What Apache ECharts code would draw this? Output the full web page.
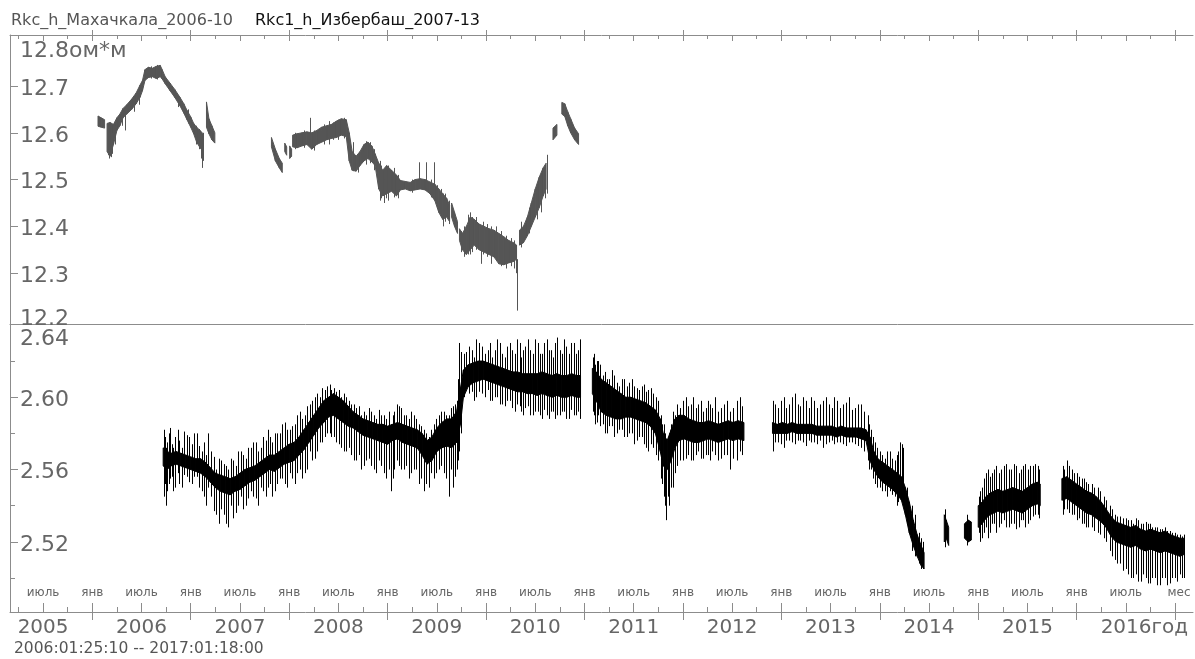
<!DOCTYPE html>
<html><head><meta charset="utf-8">
<script src="https://cdn.jsdelivr.net/npm/echarts@6/dist/echarts.min.js"></script>
<style>html,body{margin:0;padding:0;background:#fff}#c{width:1195px;height:659px}</style>
</head><body><div id="c"></div>
<script>
// ---------- tick labels ----------
const yearLabels = ['2005','2006','2007','2008','2009','2010','2011','2012','2013','2014','2015','2016'];
const monthJan = 'янв', monthJul = 'июль', monthUnit = 'мес', yearUnit = 'год', valueUnit = 'ом*м';
const topYTicks = [12.2, 12.3, 12.4, 12.5, 12.6, 12.7, 12.8];
const botYLabels = [2.52, 2.56, 2.60, 2.64];
const botYMinor = [2.50, 2.54, 2.58, 2.62];
const title1 = 'Rkc_h_Махачкала_2006-10';
const title2 = 'Rkc1_h_Избербаш_2007-13';
const rangeText = '2006:01:25:10 -- 2017:01:18:00';

// ---------- Rkc_h Махачкала (ом*м), bands [year, low, high] ----------
const mkhSegA = [[2006.058,12.614,12.636],[2006.090,12.612,12.632],[2006.125,12.610,12.628]];
const mkhSegB = [
 [2006.150,12.560,12.620],[2006.180,12.550,12.622],[2006.215,12.575,12.618],[2006.250,12.605,12.632],
 [2006.280,12.615,12.640],[2006.312,12.632,12.652],[2006.350,12.640,12.660],[2006.400,12.650,12.672],
 [2006.445,12.662,12.685],[2006.485,12.676,12.702],[2006.510,12.690,12.712],[2006.535,12.712,12.735],
 [2006.570,12.718,12.740],[2006.610,12.720,12.738],[2006.650,12.716,12.742],[2006.690,12.720,12.744],
 [2006.710,12.715,12.735],[2006.740,12.705,12.720],[2006.790,12.690,12.706],[2006.840,12.675,12.692],
 [2006.890,12.658,12.676],[2006.930,12.642,12.662],[2006.962,12.628,12.648],[2007.000,12.612,12.634],
 [2007.030,12.598,12.620],[2007.060,12.580,12.612],[2007.095,12.568,12.605],[2007.125,12.560,12.598]];
const mkhSegC = [[2007.160,12.612,12.666],[2007.185,12.598,12.630],[2007.215,12.585,12.615],[2007.245,12.578,12.600]];
const mkhSegD = [[2007.820,12.570,12.590],[2007.860,12.540,12.565],[2007.900,12.525,12.545],[2007.930,12.515,12.535]];
const mkhSegE = [[2007.955,12.560,12.578],[2007.975,12.552,12.570]];
const mkhSegF = [[2008.005,12.545,12.572],[2008.025,12.550,12.565]];
const mkhSegG = [
 [2008.035,12.570,12.595],[2008.080,12.568,12.598],[2008.130,12.572,12.600],[2008.180,12.575,12.602],
 [2008.230,12.565,12.600],[2008.280,12.575,12.605],[2008.330,12.580,12.612],[2008.380,12.585,12.615],
 [2008.430,12.588,12.618],[2008.480,12.590,12.625],[2008.530,12.595,12.630],[2008.580,12.592,12.628],
 [2008.610,12.540,12.600],[2008.640,12.520,12.560],[2008.680,12.518,12.550],[2008.720,12.530,12.560],
 [2008.760,12.540,12.575],[2008.800,12.545,12.580],[2008.840,12.538,12.572],[2008.873,12.530,12.555],
 [2008.910,12.480,12.535],[2008.950,12.465,12.520],[2008.990,12.470,12.530],[2009.040,12.475,12.520],
 [2009.090,12.465,12.510],[2009.130,12.478,12.498],[2009.180,12.480,12.496],[2009.230,12.476,12.494],
 [2009.280,12.478,12.500],[2009.330,12.480,12.502],[2009.380,12.478,12.500],[2009.430,12.470,12.495],
 [2009.480,12.455,12.490],[2009.520,12.430,12.480],[2009.560,12.415,12.470],[2009.600,12.420,12.460],
 [2009.630,12.410,12.445]];
const mkhSegH = [[2009.650,12.420,12.450],[2009.680,12.400,12.430],[2009.710,12.385,12.410]];
const mkhSegI = [
 [2009.730,12.370,12.395],[2009.760,12.350,12.385],[2009.800,12.340,12.400],[2009.840,12.350,12.420],
 [2009.880,12.360,12.415],[2009.930,12.350,12.405],[2009.980,12.345,12.400],[2010.030,12.340,12.395],
 [2010.080,12.335,12.392],[2010.130,12.320,12.385],[2010.180,12.318,12.378],[2010.230,12.322,12.370],
 [2010.280,12.325,12.365],[2010.310,12.330,12.360]];
const mkhSegJ = [[2010.340,12.360,12.392],[2010.380,12.365,12.400],[2010.420,12.380,12.420],[2010.460,12.400,12.450],
 [2010.500,12.420,12.480],[2010.540,12.440,12.505],[2010.580,12.465,12.525],[2010.610,12.480,12.535]];
const mkhSegK = [[2010.680,12.585,12.610],[2010.720,12.595,12.618]];
const mkhSegL = [[2010.770,12.640,12.665],[2010.800,12.635,12.662],[2010.830,12.615,12.645],[2010.860,12.600,12.630],
 [2010.900,12.585,12.610],[2010.940,12.575,12.598]];
const mkhSpikes = [
 [2006.170,12.545,12.600],[2006.190,12.548,12.590],[2006.205,12.555,12.600],[2006.330,12.605,12.640],
 [2007.100,12.545,12.600],[2007.115,12.525,12.590],
 [2008.210,12.580,12.632],[2008.400,12.575,12.625],[2008.650,12.518,12.580],[2008.920,12.455,12.540],
 [2008.960,12.450,12.500],[2009.000,12.455,12.530],[2009.320,12.480,12.537],[2009.390,12.480,12.537],
 [2009.470,12.470,12.537],[2009.560,12.400,12.470],[2009.840,12.340,12.430],[2009.950,12.320,12.400],
 [2010.050,12.320,12.400],[2010.200,12.310,12.380],[2010.300,12.300,12.360],[2010.317,12.220,12.330],
 [2010.360,12.355,12.410],[2010.620,12.470,12.553]];
const mkhSpikes2 = [
 [2006.16,12.552,12.615],[2006.23,12.575,12.615],[2006.30,12.615,12.645],[2006.42,12.645,12.675],
 [2006.47,12.660,12.690],[2006.60,12.716,12.742],[2006.66,12.714,12.745],[2006.87,12.655,12.680],
 [2006.97,12.620,12.650],[2007.05,12.575,12.615],[2007.08,12.565,12.608],[2007.12,12.540,12.600],
 [2008.06,12.565,12.600],[2008.15,12.568,12.605],[2008.25,12.562,12.605],[2008.35,12.575,12.618],
 [2008.45,12.585,12.622],[2008.50,12.585,12.628],[2008.56,12.588,12.632],[2008.70,12.515,12.555],
 [2008.78,12.532,12.582],[2008.82,12.535,12.580],[2008.86,12.520,12.565],[2008.93,12.460,12.530],
 [2008.98,12.460,12.528],[2009.06,12.462,12.525],[2009.11,12.460,12.510],[2009.25,12.472,12.500],
 [2009.44,12.462,12.500],[2009.50,12.440,12.488],[2009.54,12.420,12.480],[2009.58,12.410,12.470],
 [2009.62,12.405,12.455],[2009.75,12.345,12.390],[2009.78,12.335,12.400],[2009.82,12.340,12.425],
 [2009.86,12.345,12.420],[2009.90,12.350,12.420],[2009.97,12.340,12.410],[2010.01,12.335,12.405],
 [2010.10,12.330,12.400],[2010.15,12.315,12.390],[2010.25,12.315,12.375],[2010.28,12.310,12.370],
 [2010.44,12.385,12.440],[2010.52,12.415,12.490],[2010.56,12.430,12.510],[2010.60,12.460,12.530]];

// ---------- Rkc1_h Избербаш (ом*м), bands [year, low, high] ----------
const izbSegA = [
 [2006.72,2.562,2.572],[2006.76,2.560,2.570],[2006.80,2.562,2.569],[2006.85,2.563,2.570],[2006.90,2.562,2.569],
 [2006.95,2.561,2.568],[2007.00,2.560,2.567],[2007.05,2.559,2.566],[2007.10,2.558,2.566],[2007.15,2.556,2.564],
 [2007.20,2.553,2.561],[2007.25,2.550,2.558],[2007.30,2.548,2.557],[2007.35,2.547,2.556],[2007.40,2.546,2.555],
 [2007.45,2.548,2.556],[2007.50,2.549,2.558],[2007.55,2.551,2.560],[2007.60,2.553,2.561],[2007.65,2.554,2.562],
 [2007.70,2.556,2.564],[2007.75,2.558,2.566],[2007.80,2.560,2.568],[2007.85,2.559,2.568],[2007.90,2.561,2.570],
 [2007.95,2.563,2.572],[2008.00,2.564,2.574],[2008.05,2.565,2.575],[2008.10,2.568,2.578],[2008.15,2.571,2.582],
 [2008.20,2.575,2.586],[2008.25,2.579,2.590],[2008.30,2.583,2.594],[2008.35,2.586,2.598],[2008.40,2.589,2.600],
 [2008.45,2.590,2.602],[2008.50,2.588,2.600],[2008.55,2.586,2.598],[2008.60,2.584,2.595],[2008.65,2.583,2.592],
 [2008.70,2.581,2.590],[2008.75,2.579,2.588],[2008.80,2.578,2.587],[2008.85,2.577,2.586],[2008.90,2.576,2.585],
 [2008.95,2.575,2.585],[2009.00,2.574,2.584],[2009.05,2.576,2.585],[2009.10,2.577,2.586],[2009.15,2.575,2.585],
 [2009.20,2.574,2.584],[2009.25,2.573,2.583],[2009.30,2.572,2.582],[2009.35,2.568,2.580],[2009.40,2.563,2.576],
 [2009.45,2.565,2.578],[2009.50,2.570,2.583],[2009.55,2.572,2.586],[2009.60,2.573,2.588],[2009.65,2.572,2.588],
 [2009.70,2.575,2.592],[2009.74,2.585,2.605],[2009.77,2.600,2.615],[2009.82,2.606,2.618],[2009.87,2.608,2.619],
 [2009.92,2.609,2.620],[2009.97,2.610,2.620],[2010.02,2.609,2.619],[2010.07,2.608,2.618],[2010.12,2.607,2.617],
 [2010.17,2.606,2.616],[2010.22,2.605,2.615],[2010.27,2.604,2.614],[2010.32,2.603,2.614],[2010.37,2.603,2.613],
 [2010.42,2.602,2.613],[2010.47,2.602,2.613],[2010.52,2.601,2.613],[2010.57,2.602,2.614],[2010.62,2.601,2.613],
 [2010.67,2.600,2.612],[2010.72,2.601,2.613],[2010.77,2.600,2.612],[2010.82,2.600,2.612],[2010.87,2.601,2.613],
 [2010.92,2.600,2.612],[2010.96,2.600,2.612]];
const izbSegB = [
 [2011.08,2.602,2.616],[2011.12,2.598,2.614],[2011.17,2.592,2.610],[2011.22,2.590,2.608],[2011.27,2.589,2.606],
 [2011.32,2.588,2.604],[2011.37,2.588,2.602],[2011.42,2.589,2.600],[2011.47,2.589,2.600],[2011.52,2.588,2.599],
 [2011.57,2.587,2.598],[2011.62,2.586,2.597],[2011.67,2.584,2.595],[2011.72,2.580,2.593],[2011.77,2.570,2.588],
 [2011.80,2.562,2.580],[2011.84,2.560,2.576],[2011.88,2.565,2.582],[2011.92,2.572,2.588],[2011.96,2.576,2.590],
 [2012.01,2.577,2.590],[2012.06,2.576,2.588],[2012.11,2.575,2.587],[2012.16,2.575,2.586],[2012.21,2.576,2.586],
 [2012.26,2.577,2.587],[2012.31,2.576,2.586],[2012.36,2.575,2.585],[2012.41,2.576,2.586],[2012.46,2.577,2.587],
 [2012.51,2.576,2.586],[2012.56,2.577,2.587],[2012.62,2.576,2.586]];
const izbSegC = [
 [2012.91,2.580,2.586],[2012.96,2.580,2.585],[2013.01,2.580,2.586],[2013.06,2.580,2.585],[2013.11,2.581,2.586],
 [2013.16,2.580,2.585],[2013.21,2.580,2.585],[2013.26,2.580,2.585],[2013.31,2.580,2.585],[2013.36,2.579,2.584],
 [2013.41,2.579,2.584],[2013.46,2.579,2.584],[2013.51,2.579,2.584],[2013.56,2.578,2.583],[2013.61,2.579,2.584],
 [2013.66,2.578,2.583],[2013.71,2.578,2.583],[2013.76,2.578,2.583],[2013.81,2.577,2.583],[2013.86,2.576,2.582],
 [2013.90,2.565,2.578],[2013.94,2.560,2.570],[2013.98,2.556,2.566],[2014.03,2.553,2.564],[2014.08,2.551,2.562],
 [2014.13,2.549,2.560],[2014.18,2.546,2.558],[2014.22,2.543,2.556],[2014.26,2.535,2.550],[2014.30,2.525,2.542],
 [2014.34,2.518,2.532],[2014.38,2.512,2.524],[2014.42,2.507,2.518],[2014.45,2.505,2.514]];
const izbSegD = [[2014.655,2.520,2.535],[2014.675,2.522,2.532],[2014.700,2.518,2.528]];
const izbSegE = [[2014.860,2.522,2.530],[2014.900,2.520,2.532],[2014.930,2.521,2.531]];
const izbSegF = [
 [2015.00,2.528,2.540],[2015.04,2.530,2.542],[2015.08,2.533,2.545],[2015.12,2.535,2.547],[2015.16,2.536,2.548],
 [2015.20,2.537,2.549],[2015.25,2.536,2.548],[2015.30,2.537,2.549],[2015.35,2.538,2.550],[2015.40,2.537,2.549],
 [2015.45,2.536,2.548],[2015.50,2.538,2.550],[2015.55,2.540,2.552],[2015.60,2.541,2.553],[2015.63,2.540,2.552]];
const izbSegG = [
 [2015.85,2.543,2.555],[2015.90,2.544,2.556],[2015.95,2.542,2.554],[2016.00,2.540,2.552],[2016.05,2.538,2.550],
 [2016.10,2.536,2.548],[2016.15,2.535,2.547],[2016.20,2.533,2.545],[2016.25,2.531,2.542],[2016.30,2.528,2.538],
 [2016.35,2.523,2.534],[2016.40,2.520,2.531],[2016.45,2.519,2.530],[2016.50,2.518,2.529],[2016.55,2.517,2.528],
 [2016.60,2.518,2.529],[2016.65,2.516,2.527],[2016.70,2.515,2.526],[2016.75,2.516,2.527],[2016.80,2.515,2.526],
 [2016.85,2.514,2.525],[2016.90,2.515,2.526],[2016.95,2.514,2.524],[2017.00,2.513,2.523],[2017.05,2.512,2.522],
 [2017.09,2.513,2.522]];
const izbSpikes = [
 [2006.725,2.545,2.582],[2006.74,2.552,2.578],[2006.76,2.548,2.575],[2006.79,2.555,2.583],[2006.84,2.550,2.578],
 [2006.88,2.552,2.576],[2006.93,2.557,2.581],[2006.98,2.553,2.578],[2007.03,2.556,2.580],[2007.08,2.550,2.573],
 [2007.13,2.545,2.575],[2007.18,2.550,2.580],[2007.24,2.537,2.567],[2007.29,2.530,2.566],[2007.34,2.535,2.563],
 [2007.38,2.528,2.560],[2007.43,2.533,2.565],[2007.48,2.540,2.570],[2007.53,2.538,2.568],[2007.58,2.544,2.572],
 [2007.63,2.545,2.575],[2007.68,2.540,2.570],[2007.73,2.548,2.578],[2007.78,2.550,2.582],[2007.83,2.545,2.575],
 [2007.88,2.552,2.580],[2007.93,2.555,2.585],[2007.98,2.550,2.582],[2008.03,2.555,2.584],[2008.08,2.558,2.590],
 [2008.13,2.555,2.588],[2008.18,2.560,2.595],[2008.23,2.565,2.598],[2008.28,2.570,2.602],[2008.33,2.575,2.605],
 [2008.38,2.580,2.606],[2008.43,2.578,2.604],[2008.48,2.575,2.603],[2008.53,2.572,2.600],[2008.58,2.570,2.600],
 [2008.63,2.568,2.596],[2008.68,2.565,2.594],[2008.73,2.560,2.590],[2008.78,2.565,2.590],[2008.83,2.562,2.592],
 [2008.88,2.558,2.588],[2008.93,2.562,2.590],[2008.98,2.555,2.588],[2009.03,2.548,2.585],[2009.07,2.560,2.592],
 [2009.12,2.562,2.595],[2009.17,2.560,2.590],[2009.22,2.555,2.588],[2009.27,2.560,2.590],[2009.32,2.552,2.585],
 [2009.37,2.548,2.582],[2009.42,2.550,2.578],[2009.47,2.555,2.585],[2009.52,2.560,2.590],[2009.57,2.558,2.592],
 [2009.62,2.545,2.590],[2009.66,2.550,2.595],[2009.70,2.560,2.598],[2009.73,2.570,2.630],
 [2009.80,2.605,2.625],[2009.86,2.603,2.626],[2009.90,2.600,2.632],[2009.96,2.602,2.628],[2010.02,2.604,2.626],
 [2010.06,2.598,2.622],[2010.11,2.600,2.632],[2010.16,2.596,2.624],[2010.21,2.598,2.628],[2010.26,2.594,2.626],
 [2010.31,2.596,2.632],[2010.36,2.592,2.622],[2010.40,2.594,2.628],[2010.45,2.590,2.626],[2010.50,2.592,2.632],
 [2010.55,2.590,2.624],[2010.59,2.593,2.630],[2010.64,2.588,2.626],[2010.68,2.592,2.622],[2010.72,2.590,2.633],
 [2010.77,2.592,2.624],[2010.81,2.588,2.628],[2010.86,2.593,2.630],[2010.91,2.590,2.624],[2010.95,2.588,2.632],
 [2011.09,2.592,2.622],[2011.11,2.585,2.618],[2011.14,2.590,2.620],[2011.19,2.585,2.612],[2011.23,2.580,2.610],
 [2011.28,2.584,2.615],[2011.33,2.580,2.608],[2011.38,2.582,2.610],[2011.43,2.578,2.606],[2011.48,2.580,2.610],
 [2011.53,2.576,2.605],[2011.58,2.578,2.606],[2011.63,2.572,2.603],[2011.68,2.574,2.605],[2011.73,2.568,2.600],
 [2011.78,2.555,2.590],[2011.81,2.545,2.585],[2011.83,2.532,2.575],[2011.86,2.540,2.580],[2011.90,2.550,2.592],
 [2011.94,2.562,2.596],[2012.00,2.565,2.598],[2012.05,2.568,2.595],[2012.10,2.565,2.600],[2012.15,2.570,2.596],
 [2012.20,2.566,2.592],[2012.25,2.568,2.598],[2012.30,2.570,2.594],[2012.36,2.565,2.592],[2012.42,2.568,2.596],
 [2012.48,2.560,2.592],[2012.55,2.565,2.598],[2012.60,2.568,2.595],
 [2012.92,2.570,2.598],[2012.97,2.575,2.594],[2013.03,2.572,2.600],[2013.08,2.576,2.596],[2013.14,2.574,2.602],
 [2013.19,2.576,2.595],[2013.25,2.573,2.598],[2013.30,2.575,2.600],[2013.36,2.574,2.594],[2013.42,2.572,2.598],
 [2013.48,2.575,2.596],[2013.54,2.574,2.600],[2013.60,2.575,2.594],[2013.66,2.573,2.597],[2013.72,2.575,2.593],
 [2013.78,2.573,2.596],[2013.84,2.570,2.592],[2013.89,2.560,2.585],[2013.93,2.555,2.578],[2013.97,2.550,2.572],
 [2014.02,2.548,2.568],[2014.07,2.545,2.570],[2014.12,2.546,2.566],[2014.17,2.540,2.568],[2014.21,2.545,2.575],
 [2014.24,2.540,2.572],[2014.33,2.515,2.540],[2014.40,2.508,2.525],[2014.44,2.505,2.520],
 [2014.665,2.517,2.538],[2014.89,2.518,2.535],
 [2015.02,2.520,2.548],[2015.06,2.525,2.555],[2015.10,2.522,2.560],[2015.14,2.530,2.558],[2015.18,2.525,2.562],
 [2015.23,2.530,2.560],[2015.28,2.528,2.563],[2015.33,2.530,2.560],[2015.38,2.527,2.562],[2015.43,2.532,2.560],
 [2015.48,2.528,2.563],[2015.53,2.532,2.562],[2015.58,2.535,2.563],[2015.62,2.533,2.560],
 [2015.86,2.535,2.562],[2015.90,2.538,2.565],[2015.95,2.535,2.560],[2016.00,2.532,2.558],[2016.05,2.530,2.555],
 [2016.10,2.528,2.553],[2016.16,2.528,2.552],[2016.22,2.525,2.550],[2016.28,2.522,2.545],[2016.34,2.515,2.540],
 [2016.39,2.510,2.535],[2016.44,2.508,2.534],[2016.50,2.505,2.533],[2016.55,2.500,2.532],[2016.60,2.502,2.533],
 [2016.65,2.498,2.530],[2016.70,2.500,2.531],[2016.75,2.497,2.530],[2016.80,2.500,2.528],[2016.85,2.496,2.527],
 [2016.90,2.500,2.528],[2016.95,2.497,2.526],[2017.00,2.500,2.525],[2017.05,2.502,2.524],[2017.09,2.500,2.524]];
const izbSpikes2 = [
 [2006.73,2.555,2.575],[2006.75,2.540,2.572],[2006.78,2.552,2.580],[2006.81,2.556,2.574],[2006.82,2.548,2.572],
 [2006.87,2.558,2.582],[2006.91,2.550,2.572],[2006.96,2.556,2.579],[2007.01,2.552,2.574],[2007.06,2.556,2.580],
 [2007.11,2.548,2.570],[2007.16,2.540,2.568],[2007.21,2.545,2.570],[2007.26,2.535,2.560],[2007.31,2.538,2.565],
 [2007.36,2.530,2.562],[2007.41,2.540,2.566],[2007.46,2.536,2.562],[2007.51,2.545,2.570],[2007.56,2.540,2.566],
 [2007.61,2.548,2.572],[2007.66,2.544,2.575],[2007.71,2.550,2.572],[2007.76,2.545,2.576],[2007.81,2.552,2.578],
 [2007.86,2.548,2.580],[2007.91,2.555,2.580],[2007.96,2.552,2.586],[2008.01,2.558,2.582],[2008.06,2.552,2.585],
 [2008.11,2.560,2.592],[2008.16,2.558,2.590],[2008.21,2.570,2.596],[2008.26,2.566,2.600],[2008.31,2.575,2.600],
 [2008.36,2.578,2.604],[2008.41,2.580,2.607],[2008.46,2.578,2.605],[2008.51,2.574,2.604],[2008.56,2.570,2.602],
 [2008.61,2.572,2.598],[2008.66,2.565,2.596],[2008.71,2.568,2.595],[2008.76,2.562,2.592],[2008.81,2.566,2.594],
 [2008.86,2.560,2.590],[2008.91,2.565,2.593],[2008.96,2.558,2.590],[2009.01,2.560,2.592],[2009.05,2.555,2.590],
 [2009.10,2.565,2.596],[2009.14,2.560,2.594],[2009.19,2.562,2.590],[2009.24,2.558,2.592],[2009.29,2.560,2.588],
 [2009.34,2.555,2.584],[2009.39,2.552,2.580],[2009.44,2.558,2.582],[2009.49,2.558,2.588],[2009.54,2.562,2.592],
 [2009.59,2.555,2.590],[2009.64,2.560,2.594],[2009.68,2.556,2.596],[2009.72,2.565,2.610],[2009.75,2.580,2.625],
 [2009.78,2.600,2.624],[2009.83,2.602,2.628],[2009.88,2.598,2.622],[2009.93,2.603,2.630],[2009.99,2.600,2.624],
 [2010.04,2.598,2.630],[2010.09,2.600,2.626],[2010.14,2.596,2.630],[2010.19,2.595,2.622],[2010.24,2.598,2.630],
 [2010.29,2.592,2.624],[2010.34,2.595,2.630],[2010.38,2.590,2.626],[2010.43,2.595,2.632],[2010.48,2.590,2.624],
 [2010.53,2.592,2.630],[2010.57,2.588,2.624],[2010.62,2.590,2.632],[2010.66,2.592,2.626],[2010.70,2.588,2.630],
 [2010.75,2.590,2.626],[2010.79,2.592,2.632],[2010.84,2.588,2.624],[2010.89,2.590,2.630],[2010.93,2.592,2.626],
 [2011.10,2.590,2.624],[2011.13,2.586,2.620],[2011.16,2.584,2.618],[2011.21,2.580,2.614],[2011.25,2.584,2.610],
 [2011.30,2.578,2.612],[2011.35,2.582,2.606],[2011.40,2.578,2.610],[2011.45,2.580,2.608],[2011.50,2.574,2.606],
 [2011.55,2.578,2.604],[2011.60,2.574,2.607],[2011.65,2.570,2.604],[2011.70,2.572,2.602],[2011.75,2.565,2.598],
 [2011.79,2.552,2.585],[2011.82,2.540,2.580],[2011.85,2.545,2.578],[2011.88,2.550,2.585],[2011.92,2.558,2.590],
 [2011.97,2.565,2.594],[2012.03,2.566,2.600],[2012.08,2.565,2.596],[2012.13,2.568,2.594],[2012.18,2.566,2.598],
 [2012.23,2.568,2.594],[2012.28,2.565,2.596],[2012.33,2.568,2.600],[2012.39,2.566,2.594],[2012.45,2.568,2.598],
 [2012.51,2.566,2.594],[2012.58,2.570,2.600],
 [2012.94,2.575,2.596],[2013.00,2.574,2.598],[2013.05,2.576,2.594],[2013.11,2.575,2.600],[2013.17,2.576,2.596],
 [2013.22,2.575,2.600],[2013.28,2.576,2.594],[2013.33,2.575,2.598],[2013.39,2.576,2.596],[2013.45,2.574,2.600],
 [2013.51,2.576,2.594],[2013.57,2.575,2.598],[2013.63,2.574,2.596],[2013.69,2.575,2.600],[2013.75,2.574,2.594],
 [2013.81,2.572,2.596],[2013.88,2.565,2.590],[2013.91,2.560,2.582],[2013.95,2.552,2.575],[2014.00,2.550,2.570],
 [2014.05,2.548,2.566],[2014.10,2.548,2.570],[2014.15,2.545,2.565],[2014.19,2.542,2.570],[2014.23,2.545,2.574],
 [2014.28,2.530,2.550],[2014.36,2.512,2.535],[2014.42,2.505,2.522],
 [2015.01,2.525,2.545],[2015.04,2.522,2.550],[2015.08,2.528,2.558],[2015.12,2.525,2.556],[2015.16,2.530,2.560],
 [2015.21,2.528,2.558],[2015.26,2.532,2.562],[2015.31,2.528,2.560],[2015.36,2.530,2.563],[2015.41,2.528,2.558],
 [2015.46,2.532,2.562],[2015.51,2.530,2.560],[2015.56,2.534,2.562],[2015.61,2.535,2.562],
 [2015.87,2.538,2.560],[2015.92,2.536,2.562],[2015.97,2.535,2.558],[2016.02,2.533,2.556],[2016.07,2.530,2.555],
 [2016.12,2.528,2.552],[2016.18,2.526,2.550],[2016.24,2.524,2.548],[2016.30,2.520,2.543],[2016.36,2.512,2.538],
 [2016.41,2.508,2.534],[2016.47,2.504,2.533],[2016.52,2.502,2.532],[2016.57,2.500,2.530],[2016.62,2.498,2.532],
 [2016.67,2.502,2.530],[2016.72,2.497,2.530],[2016.77,2.500,2.528],[2016.82,2.496,2.528],[2016.87,2.500,2.527],
 [2016.92,2.496,2.526],[2016.97,2.500,2.525],[2017.02,2.498,2.524],[2017.07,2.500,2.523]];

// ---------- layout / style ----------
const FONT = 'DejaVu Sans';
const AXC = '#8c8c8c';
const LBL = '#666';
const X_MIN = 2005.164, X_MAX = 2017.182;
const years = yearLabels.map(Number).concat([2017]);
const inRange = v => v >= X_MIN && v <= X_MAX;
const janTicks = years.filter(inRange);
const julTicks = years.map(y => y + 0.5).filter(inRange);
const qTicks = years.flatMap(y => [y + 0.25, y + 0.75]).filter(inRange);
const allQ = janTicks.concat(julTicks, qTicks);
const monthLabelVals = julTicks.concat(janTicks);
const yearLabelVals = yearLabels.map(y => Number(y) + 0.5);

function bandSeries(segments, xi, yi, color) {
  const data = [];
  segments.forEach((seg, si) => seg.forEach(p => data.push([p[0], p[1], p[2], si])));
  return {
    type: 'custom', xAxisIndex: xi, yAxisIndex: yi, clip: true, silent: true,
    encode: {x: 0, y: [1, 2]}, data: data,
    renderItem: function (params, api) {
      const i = params.dataIndex, cur = data[i], nxt = data[i + 1], prv = data[i - 1];
      if (nxt && nxt[3] === cur[3]) {
        const pts = [api.coord([cur[0], cur[2]]), api.coord([nxt[0], nxt[2]]),
                     api.coord([nxt[0], nxt[1]]), api.coord([cur[0], cur[1]])];
        return {type: 'polygon', shape: {points: pts}, style: {fill: color, stroke: color, lineWidth: 1}};
      }
      if (prv && prv[3] === cur[3]) return {type: 'group', children: []};
      const a = api.coord([cur[0], cur[1]]), b = api.coord([cur[0], cur[2]]);
      return {type: 'line', shape: {x1: a[0], y1: a[1], x2: b[0], y2: b[1]}, style: {stroke: color, lineWidth: 2}};
    }
  };
}
function spikeSeries(data, xi, yi, color) {
  return {
    type: 'custom', xAxisIndex: xi, yAxisIndex: yi, clip: true, silent: true,
    encode: {x: 0, y: [1, 2]}, data: data,
    renderItem: function (params, api) {
      const a = api.coord([api.value(0), api.value(1)]), b = api.coord([api.value(0), api.value(2)]);
      const px = Math.round(a[0]) + 0.5;
      return {type: 'line', shape: {x1: px, y1: a[1], x2: px, y2: b[1]}, style: {stroke: color, lineWidth: 1}};
    }
  };
}

const lineSt = {color: AXC, width: 1};
function xAx(grid, pos, opts) {
  return Object.assign({
    type: 'value', gridIndex: grid, position: pos, min: X_MIN, max: X_MAX,
    axisLine: {show: false, lineStyle: lineSt}, axisTick: {show: false}, axisLabel: {show: false},
    splitLine: {show: false}
  }, opts);
}

const chart = echarts.init(document.getElementById('c'), null, {renderer: 'canvas'});
chart.setOption({
  animation: false,
  backgroundColor: '#fff',
  textStyle: {fontFamily: FONT},
  title: [
    {text: title1, left: 11, top: 13, padding: 0, textStyle: {fontFamily: FONT, fontSize: 16, fontWeight: 'normal', color: '#555'}},
    {text: title2, left: 255, top: 13, padding: 0, textStyle: {fontFamily: FONT, fontSize: 16, fontWeight: 'normal', color: '#111'}},
    {text: rangeText, left: 14, top: 641, padding: 0, textStyle: {fontFamily: FONT, fontSize: 15.5, fontWeight: 'normal', color: '#555'}}
  ],
  grid: [
    {left: 10, right: 2, top: 35, height: 289, outerBoundsMode: 'none', containLabel: false},
    {left: 10, right: 2, top: 324, height: 288, outerBoundsMode: 'none', containLabel: false}
  ],
  xAxis: [
    xAx(0, 'top', {axisLine: {show: true, lineStyle: lineSt},
      axisTick: {show: true, inside: true, length: 4, customValues: allQ, lineStyle: lineSt}}),
    xAx(0, 'top', {axisTick: {show: true, inside: true, length: 6, customValues: janTicks.concat(julTicks), lineStyle: lineSt}}),
    xAx(0, 'top', {axisTick: {show: true, inside: false, length: 5, customValues: janTicks, lineStyle: lineSt}}),
    xAx(0, 'bottom', {axisLine: {show: true, lineStyle: lineSt}}),
    xAx(1, 'bottom', {axisLine: {show: true, lineStyle: lineSt},
      axisTick: {show: true, inside: true, length: 5, customValues: qTicks, lineStyle: lineSt},
      axisLabel: {show: true, inside: true, margin: 13, customValues: monthLabelVals,
        fontFamily: FONT, fontSize: 12, color: LBL,
        formatter: v => (Math.abs(v - Math.round(v)) < 0.01) ? (v > 2016.9 ? '{m|' + monthUnit + '}' : monthJan) : monthJul,
        rich: {m: {fontFamily: FONT, fontSize: 12, color: LBL, padding: [0, 0, 0, 8]}}}}),
    xAx(1, 'bottom', {axisTick: {show: true, inside: true, length: 9, customValues: janTicks.concat(julTicks), lineStyle: lineSt}}),
    xAx(1, 'bottom', {axisTick: {show: true, inside: false, length: 8, customValues: janTicks, lineStyle: lineSt},
      axisLabel: {show: true, margin: 6, customValues: yearLabelVals, fontFamily: FONT, fontSize: 20, color: LBL,
        formatter: v => { const y = String(Math.floor(v)); return y === '2016' ? '{q|' + y + '}{g|' + yearUnit + '}' : y; },
        rich: {q: {fontFamily: FONT, fontSize: 20, color: LBL, padding: [0, 0, 0, 37]},
               g: {fontFamily: FONT, fontSize: 20, color: LBL}}}})
  ],
  yAxis: [
    {type: 'value', gridIndex: 0, position: 'left', min: 12.1914, max: 12.809,
      axisLine: {show: true, lineStyle: lineSt},
      axisTick: {show: true, inside: true, length: 8, customValues: [12.3, 12.4, 12.5, 12.6, 12.7], lineStyle: lineSt},
      splitLine: {show: false},
      axisLabel: {show: true, inside: true, margin: 10, customValues: topYTicks, fontFamily: FONT, fontSize: 22, color: LBL,
        formatter: v => v >= 12.79 ? '{t|' + v.toFixed(1) + '}{t|' + valueUnit + '}' : (v <= 12.21 ? '{b|' + v.toFixed(1) + '}' : '{n|' + v.toFixed(1) + '}'),
        rich: {n: {fontFamily: FONT, fontSize: 22, color: LBL, padding: [6, 0, 0, 0]},
               t: {fontFamily: FONT, fontSize: 22, color: LBL, padding: [24, 0, 0, 0]},
               b: {fontFamily: FONT, fontSize: 22, color: LBL, padding: [0, 0, 2, 0]}}}},
    {type: 'value', gridIndex: 1, position: 'left', min: 2.4812, max: 2.6405,
      axisLine: {show: true, lineStyle: lineSt},
      axisTick: {show: true, inside: true, length: 8, customValues: [2.52, 2.56, 2.60], lineStyle: lineSt},
      splitLine: {show: false},
      axisLabel: {show: true, inside: true, margin: 10, customValues: botYLabels, fontFamily: FONT, fontSize: 22, color: LBL,
        formatter: v => v >= 2.639 ? '{t|' + v.toFixed(2) + '}' : '{n|' + v.toFixed(2) + '}',
        rich: {n: {fontFamily: FONT, fontSize: 22, color: LBL, padding: [6, 0, 0, 0]},
               t: {fontFamily: FONT, fontSize: 22, color: LBL, padding: [28, 0, 0, 0]}}}},
    {type: 'value', gridIndex: 1, position: 'left', min: 2.4812, max: 2.6405,
      axisLine: {show: false}, splitLine: {show: false}, axisLabel: {show: false},
      axisTick: {show: true, inside: true, length: 5, customValues: botYMinor, lineStyle: lineSt}}
  ],
  series: [
    bandSeries([mkhSegA, mkhSegB, mkhSegC, mkhSegD, mkhSegE, mkhSegF, mkhSegG, mkhSegH, mkhSegI, mkhSegJ, mkhSegK, mkhSegL], 0, 0, '#555'),
    spikeSeries(mkhSpikes.concat(mkhSpikes2), 0, 0, '#555'),
    bandSeries([izbSegA, izbSegB, izbSegC, izbSegD, izbSegE, izbSegF, izbSegG], 4, 1, '#000'),
    spikeSeries(izbSpikes.concat(izbSpikes2), 4, 1, '#000')
  ]
});
</script></body></html>
